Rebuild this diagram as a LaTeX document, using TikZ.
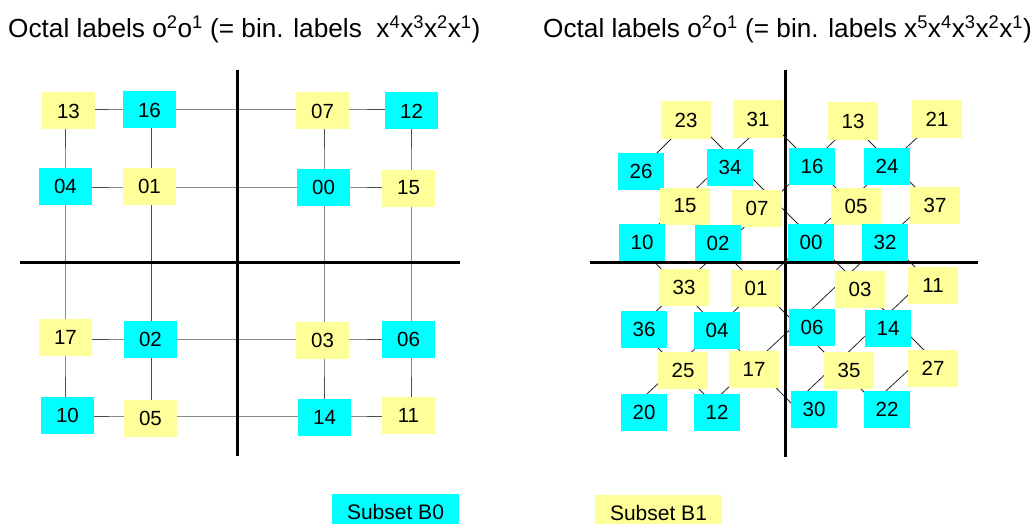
\documentclass[tikz,border=0pt]{standalone}
\usepackage{fontspec}
\setmainfont{Liberation Sans}
\definecolor{cy}{HTML}{00FFFF}
\definecolor{ye}{HTML}{FFFF99}
\tikzset{
  boxbase/.style={inner sep=0pt, minimum height=37pt, font=\fontsize{20.5}{21}\selectfont},
  lcy/.style={boxbase, fill=cy, minimum width=53pt},
  lye/.style={boxbase, fill=ye, minimum width=53pt},
  rcy/.style={boxbase, fill=cy, minimum width=46pt},
  rye/.style={boxbase, fill=ye, minimum width=50pt},
  gridline/.style={draw=black!70, line width=0.9pt},
  diagline/.style={draw=black!85, line width=0.8pt},
  axisline/.style={draw=black, line width=3pt},
  titletext/.style={anchor=base west, inner sep=0pt, font=\fontsize{26.2}{29}\selectfont},
  legbox/.style={inner sep=0pt, minimum width=127pt, minimum height=36pt, font=\fontsize{21}{23}\selectfont},
}
\begin{document}
\begin{tikzpicture}[x=1pt,y=-1pt]
\useasboundingbox (0,0) rectangle (1030,524);

% titles
\node[titletext] (t1) at (8,38) {Octal labels o\textsuperscript{2}o\textsuperscript{1} (= bin. labels\ \ x\textsuperscript{4}x\textsuperscript{3}x\textsuperscript{2}x\textsuperscript{1})};
\node[titletext] (t2) at (543,38) {Octal labels o\textsuperscript{2}o\textsuperscript{1} (= bin. labels x\textsuperscript{5}x\textsuperscript{4}x\textsuperscript{3}x\textsuperscript{2}x\textsuperscript{1})};

% ---------- left diagram: grid hubs ----------
\coordinate (g13) at (65,109);   \coordinate (g16) at (151.5,109); \coordinate (g07) at (324,109); \coordinate (g12) at (411,109);
\coordinate (g04) at (65,187);   \coordinate (g01) at (151.5,187); \coordinate (g00) at (324,187); \coordinate (g15) at (411,187);
\coordinate (g17) at (65,339);   \coordinate (g02) at (151.5,339); \coordinate (g03) at (324,339); \coordinate (g06) at (411,339);
\coordinate (g10) at (65,416);   \coordinate (g05) at (151.5,416); \coordinate (g14) at (324,416); \coordinate (g11) at (411,416);

\draw[gridline] (g13) -- (g16) -- (g07) -- (g12);
\draw[gridline] (g04) -- (g01) -- (g00) -- (g15);
\draw[gridline] (g17) -- (g02) -- (g03) -- (g06);
\draw[gridline] (g10) -- (g05) -- (g14) -- (g11);
\draw[gridline] (g13) -- (g04) -- (g17) -- (g10);
\draw[gridline] (g16) -- (g01) -- (g02) -- (g05);
\draw[gridline] (g07) -- (g00) -- (g03) -- (g14);
\draw[gridline] (g12) -- (g15) -- (g06) -- (g11);

\node[lye] (L13) at (68.5,111) {13};
\node[lcy] (L16) at (149.5,110) {16};
\node[lye] (L07) at (322.5,111) {07};
\node[lcy] (L12) at (411.5,111) {12};
\node[lcy] (L04) at (65.5,186) {04};
\node[lye] (L01) at (149.5,186) {01};
\node[lcy] (L00) at (323.5,187) {00};
\node[lye] (L15) at (408.5,188) {15};
\node[lye] (L17) at (65.5,337) {17};
\node[lcy] (L02) at (150.5,339) {02};
\node[lye] (L03) at (322.5,340) {03};
\node[lcy] (L06) at (408.5,339) {06};
\node[lcy] (L10) at (67.5,415) {10};
\node[lye] (L05) at (150.5,418) {05};
\node[lcy] (L14) at (324.5,417) {14};
\node[lye] (L11) at (408.5,415) {11};

\coordinate (la1) at (237.8,70);  \coordinate (la2) at (237.8,456);
\coordinate (la3) at (20,262);    \coordinate (la4) at (460,262);
\draw[axisline] (la1) -- (la2);
\draw[axisline] (la3) -- (la4);

% ---------- right diagram: lattice hubs ----------
\coordinate (h23) at (692,118);     \coordinate (h26) at (641,169);
\coordinate (h31) at (768,120);     \coordinate (h34) at (730,156);
\coordinate (h15) at (678,206);     \coordinate (h10) at (637.5,244.5);
\coordinate (h13) at (852,124);     \coordinate (h16) at (811,163);
\coordinate (h07) at (773.5,199.5); \coordinate (h02) at (721,249);
\coordinate (h33) at (679.75,288.25); \coordinate (h36) at (638.5,328.5);
\coordinate (h21) at (937,119);     \coordinate (h24) at (890.5,162.5);
\coordinate (h05) at (849.5,201.5); \coordinate (h00) at (810.5,236.5);
\coordinate (h01) at (759,287);     \coordinate (h04) at (717.5,327.5);
\coordinate (h25) at (676.5,366.5); \coordinate (h20) at (635,405);
\coordinate (h37) at (928.5,200.5); \coordinate (h32) at (886.5,238.5);
\coordinate (h03) at (848.5,274.5); \coordinate (h06) at (796,324);
\coordinate (h17) at (752.75,364.25); \coordinate (h12) at (712.5,402.5);
\coordinate (h11) at (926,278);     \coordinate (h14) at (888,314);
\coordinate (h35) at (836,364);     \coordinate (h30) at (793,405);
\coordinate (h27) at (927,353);     \coordinate (h22) at (874,402);

\foreach \a/\b in {23/26,23/34,31/34,31/16,13/16,13/24,21/24,
                   26/15,34/15,34/07,16/07,16/05,24/05,24/37,
                   15/10,15/02,07/02,07/00,05/00,05/32,37/32,
                   10/33,02/33,02/01,00/01,00/03,32/03,32/11,
                   33/36,33/04,01/04,01/06,03/06,03/14,11/14,
                   36/25,04/25,04/17,06/17,06/35,14/35,14/27,
                   25/20,25/12,17/12,17/30,35/30,35/22,27/22}
  \draw[diagline] (h\a) -- (h\b);

\node[rye] (R23) at (686,120) {23};
\node[rye] (R31) at (758,119) {31};
\node[rye] (R13) at (853,121) {13};
\node[rye] (R21) at (937,119) {21};
\node[rcy] (R26) at (641,171) {26};
\node[rcy] (R34) at (730,167) {34};
\node[rcy] (R16) at (812,166) {16};
\node[rcy] (R24) at (887,166) {24};
\node[rye] (R15) at (685,206) {15};
\node[rye] (R07) at (757,208) {07};
\node[rye] (R05) at (856,206) {05};
\node[rye] (R37) at (935,205) {37};
\node[rcy] (R10) at (642,242) {10};
\node[rcy] (R02) at (718,243) {02};
\node[rcy] (R00) at (811,242) {00};
\node[rcy] (R32) at (885,242) {32};
\node[rye] (R33) at (684,287) {33};
\node[rye] (R01) at (756,288) {01};
\node[rye] (R03) at (860,289) {03};
\node[rye] (R11) at (933,285) {11};
\node[rcy] (R36) at (644,329) {36};
\node[rcy] (R04) at (717,330) {04};
\node[rcy] (R06) at (812,327) {06};
\node[rcy] (R14) at (888,328) {14};
\node[rye] (R25) at (683,370) {25};
\node[rye] (R17) at (754,369) {17};
\node[rye] (R35) at (849,370) {35};
\node[rye] (R27) at (933,368) {27};
\node[rcy] (R20) at (644,412) {20};
\node[rcy] (R12) at (717,412) {12};
\node[rcy] (R30) at (814,409) {30};
\node[rcy] (R22) at (887,409) {22};

\coordinate (ra1) at (785,70);   \coordinate (ra2) at (785,457);
\coordinate (ra3) at (590,262);  \coordinate (ra4) at (978,262);
\draw[axisline] (ra1) -- (ra2);
\draw[axisline] (ra3) -- (ra4);

% ---------- legend ----------
\node[legbox, fill=cy] (legB0) at (395.5,512) {Subset B0};
\node[legbox, fill=ye] (legB1) at (658.5,512.5) {Subset B1};
\end{tikzpicture}
\end{document}
